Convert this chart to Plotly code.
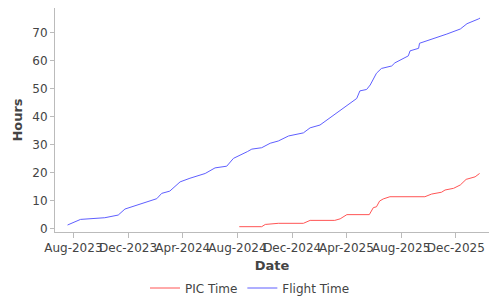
import plotly.graph_objects as go

flight_dates = [
    "2023-07-19", "2023-08-08", "2023-08-17", "2023-10-10", "2023-11-09", "2023-11-24",
    "2024-01-08", "2024-02-03", "2024-02-14", "2024-03-03", "2024-03-26", "2024-04-17",
    "2024-05-21", "2024-06-12", "2024-07-08", "2024-07-23", "2024-08-23", "2024-09-02",
    "2024-09-24", "2024-10-13", "2024-10-31", "2024-11-23", "2024-12-26", "2025-01-10",
    "2025-02-01", "2025-03-18", "2025-04-24", "2025-05-01", "2025-05-16", "2025-05-24",
    "2025-06-07", "2025-06-18", "2025-07-11", "2025-07-18", "2025-08-17", "2025-08-21",
    "2025-09-09", "2025-09-11", "2025-09-27", "2025-10-27", "2025-11-11", "2025-12-11",
    "2025-12-26", "2026-01-20", "2026-01-24",
]
flight_hours = [
    1.2, 2.6, 3.2, 3.8, 4.75, 6.9,
    9.3, 10.6, 12.5, 13.3, 16.6, 17.9,
    19.6, 21.6, 22.2, 25.0, 27.4, 28.3,
    28.8, 30.4, 31.2, 33.0, 34.1, 35.9,
    36.9, 42.0, 46.4, 49.1, 49.6, 51.2,
    55.4, 57.1, 58.0, 59.1, 61.6, 63.4,
    64.3, 66.1, 66.9, 68.4, 69.4, 71.2,
    73.1, 74.75, 75.1,
]

pic_dates = [
    "2024-08-05", "2024-09-24", "2024-10-02", "2024-10-31", "2024-12-26", "2025-01-02",
    "2025-01-10", "2025-03-06", "2025-03-18", "2025-04-02", "2025-05-22", "2025-05-31",
    "2025-06-07", "2025-06-14", "2025-06-22", "2025-07-07", "2025-09-23", "2025-10-08",
    "2025-10-30", "2025-11-07", "2025-11-26", "2025-12-11", "2025-12-24", "2026-01-13",
    "2026-01-23",
]
pic_hours = [
    0.6, 0.6, 1.4, 1.8, 1.8, 2.25,
    2.85, 2.85, 3.4, 4.9, 4.9, 7.4,
    7.7, 9.75, 10.5, 11.3, 11.3, 12.25,
    12.9, 13.7, 14.3, 15.5, 17.5, 18.4,
    19.6,
]

fig = go.Figure()
fig.add_trace(go.Scatter(x=pic_dates, y=pic_hours, mode="lines", name="PIC Time",
                         line=dict(color="rgb(255,85,85)", width=1)))
fig.add_trace(go.Scatter(x=flight_dates, y=flight_hours, mode="lines", name="Flight Time",
                         line=dict(color="rgb(95,95,255)", width=1)))

font = "DejaVu Sans"
fig.update_layout(
    width=500, height=300,
    margin=dict(l=55, r=11, t=8, b=68, autoexpand=False),
    paper_bgcolor="white", plot_bgcolor="white",
    font=dict(family=font, size=12, color="#444"),
    showlegend=True,
    legend=dict(orientation="h", xref="container", yref="container",
                x=0.5, xanchor="center", y=0.04, yanchor="middle",
                font=dict(size=12), itemwidth=30),
    xaxis=dict(
        type="date", range=["2023-06-21", "2026-02-13"],
        tick0="2023-08-01", dtick="M4", tickformat="%b-%Y", tickangle=0,
        automargin=False,
        showgrid=False, zeroline=False, showline=True, linecolor="#bbb", linewidth=1,
        ticks="outside", ticklen=5, tickcolor="#bbb",
        title=dict(text="<b>Date</b>", font=dict(size=13), standoff=8),
    ),
    yaxis=dict(
        range=[-1.3, 78.7], dtick=10, automargin=False,
        showgrid=False, zeroline=False, showline=True, linecolor="#bbb", linewidth=1,
        ticks="outside", ticklen=4, tickcolor="#bbb",
        title=dict(text="<b>Hours</b>", font=dict(size=13), standoff=6),
    ),
)

fig.write_html("out.html")
